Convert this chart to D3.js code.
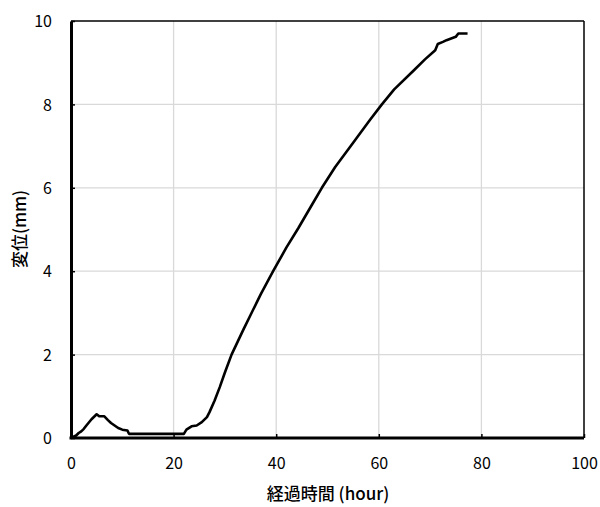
<html>
<head>
    <meta charset="utf-8">
    <script src="https://d3js.org/d3.v7.min.js"></script>
    <style>
        body { margin: 0; background: #fff; }
        text { font-family: "Noto Sans CJK JP", Lato, sans-serif; }
    </style>
</head>
<body>
    <svg id="chart"></svg>
    <script>
        // elapsed time (hour) and displacement (mm)
        var hours = [0, 0.5, 1, 1.5, 2, 2.5, 3, 4, 5, 5.5, 6.5, 7.2, 7.8, 8.5, 9.2, 10, 11, 11.3, 15, 20, 22,
            22.5, 23.5, 24.5, 25.5, 26.5, 27, 28, 29, 30, 31.3, 33.6, 35, 37, 39.4, 42, 44.3, 47, 48.9,
            51.5, 55, 58.3, 60.6, 63, 66.7, 69, 71, 71.5, 72.5, 73.2, 75, 75.5, 77.3];
        var disp = [0, 0.03, 0.06, 0.12, 0.16, 0.22, 0.3, 0.45, 0.57, 0.52, 0.52, 0.43, 0.36, 0.3, 0.24, 0.2, 0.18, 0.1, 0.1, 0.1, 0.1,
            0.2, 0.28, 0.3, 0.38, 0.5, 0.62, 0.9, 1.22, 1.57, 2.0, 2.6, 2.95, 3.45, 4.0, 4.57, 5.03, 5.6, 6.0,
            6.5, 7.08, 7.63, 8.0, 8.36, 8.8, 9.08, 9.3, 9.45, 9.5, 9.54, 9.62, 9.7, 9.7];
        var xTicks = [0, 20, 40, 60, 80, 100];
        var yTicks = [0, 2, 4, 6, 8, 10];

        var W = 600, H = 507;
        var pLeft = 71, pRight = 584, pTop = 21, pBottom = 438;

        var x = d3.scaleLinear().domain([0, 100]).range([pLeft, pRight]);
        var y = d3.scaleLinear().domain([0, 10]).range([pBottom, pTop]);

        var svg = d3.select("#chart").attr("width", W).attr("height", H);

        // grid
        svg.append("g").selectAll("line")
            .data(xTicks.slice(1, -1))
            .enter().append("line")
                .attr("x1", function(d){ return x(d); })
                .attr("x2", function(d){ return x(d); })
                .attr("y1", pTop).attr("y2", pBottom)
                .attr("stroke", "#d9d9d9").attr("stroke-width", 1.3);
        svg.append("g").selectAll("line")
            .data(yTicks.slice(1, -1))
            .enter().append("line")
                .attr("y1", function(d){ return y(d); })
                .attr("y2", function(d){ return y(d); })
                .attr("x1", pLeft).attr("x2", pRight)
                .attr("stroke", "#d9d9d9").attr("stroke-width", 1.3);

        // frame (top/right thin)
        svg.append("line").attr("x1", pLeft).attr("x2", pRight).attr("y1", pTop).attr("y2", pTop)
            .attr("stroke", "#000").attr("stroke-width", 1.5);
        svg.append("line").attr("x1", pRight).attr("x2", pRight).attr("y1", pTop).attr("y2", pBottom)
            .attr("stroke", "#000").attr("stroke-width", 1.5);

        // axes, ticks pointing inside
        var xAxis = svg.append("g")
            .attr("transform", "translate(0," + pBottom + ")")
            .call(d3.axisBottom(x).tickValues(xTicks).tickSizeInner(-4).tickSizeOuter(0).tickPadding(20));
        var yAxis = svg.append("g")
            .attr("transform", "translate(" + pLeft + ",0)")
            .call(d3.axisLeft(y).tickValues(yTicks).tickSizeInner(-4).tickSizeOuter(0).tickPadding(19));

        [xAxis, yAxis].forEach(function(a){
            a.select(".domain").attr("stroke", "#000").attr("stroke-width", 3);
            a.selectAll(".tick line").attr("stroke", "#000").attr("stroke-width", 1.5);
            a.selectAll(".tick text").attr("font-size", 16).attr("fill", "#000")
                .attr("font-family", "Lato, sans-serif");
        });
        xAxis.select(".domain").attr("d", "M" + (pLeft - 1.5) + ",0H" + pRight);
        yAxis.selectAll(".tick text").attr("dy", "0.36em");

        // data line
        var pts = hours.map(function(h, i){ return [h, disp[i]]; });
        svg.append("path")
            .datum(pts)
            .attr("fill", "none")
            .attr("stroke", "#000")
            .attr("stroke-width", 2.6)
            .attr("stroke-linejoin", "round")
            .attr("d", d3.line()
                .x(function(d){ return x(d[0]); })
                .y(function(d){ return y(d[1]); }));

        // axis titles
        svg.append("text")
            .attr("x", 328).attr("y", 500)
            .attr("text-anchor", "middle")
            .attr("font-size", 17)
            .attr("font-weight", 500)
            .text("経過時間 (hour)");
        svg.append("text")
            .attr("transform", "translate(26,229) rotate(-90)")
            .attr("text-anchor", "middle")
            .attr("font-size", 17)
            .attr("font-weight", 500)
            .text("変位(mm)");
    </script>
</body>
</html>
